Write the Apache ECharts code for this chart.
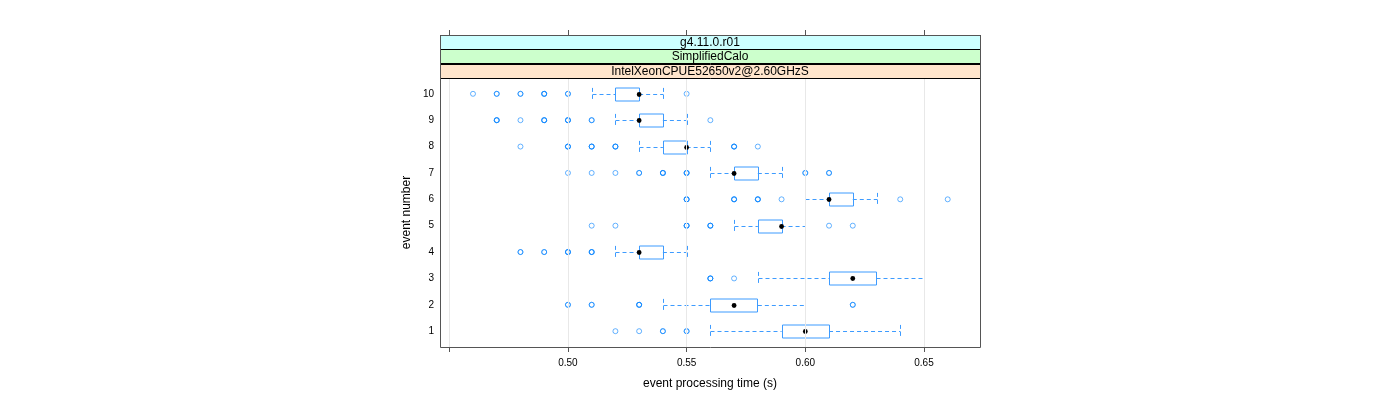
<!DOCTYPE html>
<html>
<head>
<meta charset="utf-8">
<script src="https://cdn.jsdelivr.net/npm/echarts@6/dist/echarts.min.js"></script>
<style>html,body{margin:0;padding:0;background:#fff}#c{width:1400px;height:400px}</style>
</head>
<body>
<div id="c"></div>
<script>
// ---- data (index 0 = event 1) ----
const events = [1, 2, 3, 4, 5, 6, 7, 8, 9, 10];
const lowerWhisker = [0.56, 0.54, 0.58, 0.52, 0.57, 0.60, 0.56, 0.53, 0.52, 0.51];
const q1Values     = [0.59, 0.56, 0.61, 0.53, 0.58, 0.61, 0.57, 0.54, 0.53, 0.52];
const medianValues = [0.60, 0.57, 0.62, 0.53, 0.59, 0.61, 0.57, 0.55, 0.53, 0.53];
const q3Values     = [0.61, 0.58, 0.63, 0.54, 0.59, 0.62, 0.58, 0.55, 0.54, 0.53];
const upperWhisker = [0.64, 0.60, 0.65, 0.55, 0.60, 0.63, 0.59, 0.56, 0.55, 0.54];
// outliers per event (repeated values = overlapping observations)
const outliers1  = [0.52, 0.53, 0.54, 0.54, 0.55, 0.55];
const outliers2  = [0.50, 0.50, 0.51, 0.51, 0.53, 0.53, 0.53, 0.62, 0.62];
const outliers3  = [0.56, 0.56, 0.56, 0.57];
const outliers4  = [0.48, 0.48, 0.49, 0.49, 0.50, 0.50, 0.50, 0.51, 0.51, 0.51];
const outliers5  = [0.51, 0.52, 0.55, 0.55, 0.55, 0.56, 0.56, 0.56, 0.61, 0.62];
const outliers6  = [0.55, 0.55, 0.55, 0.57, 0.57, 0.57, 0.58, 0.58, 0.58, 0.59, 0.64, 0.66];
const outliers7  = [0.50, 0.51, 0.52, 0.53, 0.53, 0.54, 0.54, 0.54, 0.55, 0.55, 0.55, 0.60, 0.60, 0.61, 0.61];
const outliers8  = [0.48, 0.50, 0.50, 0.50, 0.51, 0.51, 0.51, 0.52, 0.52, 0.52, 0.57, 0.57, 0.57, 0.58];
const outliers9  = [0.47, 0.47, 0.47, 0.48, 0.49, 0.49, 0.49, 0.50, 0.50, 0.50, 0.51, 0.51, 0.56];
const outliers10 = [0.46, 0.47, 0.47, 0.48, 0.48, 0.49, 0.49, 0.49, 0.50, 0.50, 0.55];
const outlierLists = [outliers1, outliers2, outliers3, outliers4, outliers5, outliers6, outliers7, outliers8, outliers9, outliers10];
const xTickValues = [0.45, 0.50, 0.55, 0.60, 0.65];
const xLabelValues = [0.50, 0.55, 0.60, 0.65];
const stripLabels = ['g4.11.0.r01', 'SimplifiedCalo', 'IntelXeonCPUE52650v2@2.60GHzS'];
const xTitle = 'event processing time (s)';
const yTitle = 'event number';

// ---- build ----
const FONT = '"Liberation Sans", Arial, Helvetica, sans-serif';
const BLUE = '#0080ff';
const WHISK = '#3d9bff';
const boxData = events.map((e, i) => [e, lowerWhisker[i], q1Values[i], medianValues[i], q3Values[i], upperWhisker[i]]);
const outlierData = [];
outlierLists.forEach((lst, i) => lst.forEach(v => outlierData.push([v, events[i]])));

const chart = echarts.init(document.getElementById('c'), null, {renderer: 'canvas'});
const G = {left: 440, right: 980, top: 78, bottom: 347};
const stripTop = 35, stripH = (G.top - stripTop) / 3;
const stripFills = ['#ccffff', '#ccffcc', '#ffe5cc'];
const graphics = [];
stripLabels.forEach((t, i) => {
  const y = stripTop + i * stripH;
  graphics.push({type: 'rect', shape: {x: G.left + 0.5, y: Math.round(y) + 0.5, width: G.right - G.left, height: Math.round(stripH)},
    style: {fill: stripFills[i], stroke: '#000', lineWidth: 1}, z: 10});
  graphics.push({type: 'text', x: (G.left + G.right) / 2, y: y + stripH / 2 + 0.5,
    style: {text: t, font: '12px ' + FONT, fill: '#000', align: 'center', verticalAlign: 'middle'}, z: 11});
});
graphics.push({type: 'rect', shape: {x: G.left + 0.5, y: stripTop + 0.5, width: G.right - G.left, height: G.bottom - stripTop},
  style: {fill: null, stroke: '#555', lineWidth: 1}, z: 12});

const option = {
  animation: false,
  backgroundColor: '#fff',
  textStyle: {fontFamily: FONT},
  grid: {left: G.left, right: 1400 - G.right, top: G.top, bottom: 400 - G.bottom, show: false},
  xAxis: [{
    type: 'value', min: 0.4461, max: 0.6736, position: 'bottom',
    axisLine: {show: false}, splitLine: {show: false},
    axisTick: {show: true, customValues: xTickValues, length: 5, lineStyle: {color: '#555'}},
    axisLabel: {customValues: xLabelValues, formatter: v => v.toFixed(2), fontSize: 10, color: '#000', margin: 11, fontFamily: FONT},
    name: xTitle, nameLocation: 'middle', nameGap: 31, nameTextStyle: {fontSize: 12, color: '#000', fontFamily: FONT}
  }, {
    type: 'value', min: 0.4461, max: 0.6736, position: 'top', offset: G.top - stripTop,
    axisLine: {show: false}, splitLine: {show: false},
    axisTick: {show: true, customValues: xTickValues, length: 5, lineStyle: {color: '#555'}},
    axisLabel: {show: false}
  }],
  yAxis: {
    type: 'value', min: 0.4, max: 10.6,
    axisLine: {show: false}, axisTick: {show: false}, splitLine: {show: false},
    axisLabel: {customValues: events, fontSize: 10, color: '#000', margin: 6, fontFamily: FONT},
    name: yTitle, nameLocation: 'middle', nameGap: 27, nameRotate: 90,
    nameTextStyle: {fontSize: 12, color: '#000', fontFamily: FONT}
  },
  graphic: graphics,
  series: [{
    type: 'scatter', data: [], silent: true,
    markLine: {silent: true, symbol: 'none', label: {show: false},
      lineStyle: {color: '#e8e8e8', type: 'solid', width: 1},
      data: xTickValues.map(v => ({xAxis: v}))}
  }, {
    type: 'scatter', data: outlierData, symbol: 'circle', symbolSize: 5,
    itemStyle: {color: 'rgba(0,0,0,0)', borderColor: BLUE, borderWidth: 1, opacity: 0.6}, z: 3
  }, {
    type: 'custom', data: boxData, encode: {x: [1, 2, 3, 4, 5], y: 0}, z: 4,
    renderItem: function (params, api) {
      const y = api.value(0);
      const lw = api.coord([api.value(1), y]), q1 = api.coord([api.value(2), y]), md = api.coord([api.value(3), y]),
            q3 = api.coord([api.value(4), y]), uw = api.coord([api.value(5), y]);
      const h = api.size([0, 0.5])[1];
      const cy = Math.round(q1[1]) + 0.5;
      const dash = () => ({stroke: WHISK, fill: null, lineWidth: 1, lineDash: [4, 3]});
      const xl = Math.round(lw[0]) + 0.5, xu = Math.round(uw[0]) + 0.5;
      return {type: 'group', children: [
        {type: 'line', shape: {x1: xl, y1: cy, x2: q1[0], y2: cy}, style: dash()},
        {type: 'line', shape: {x1: q3[0], y1: cy, x2: xu, y2: cy}, style: dash()},
        {type: 'line', shape: {x1: xl, y1: cy - h / 2, x2: xl, y2: cy + h / 2}, style: dash()},
        {type: 'line', shape: {x1: xu, y1: cy - h / 2, x2: xu, y2: cy + h / 2}, style: dash()},
        {type: 'rect', shape: {x: Math.round(q1[0]) + 0.5, y: Math.round(cy - h / 2), width: Math.round(q3[0] - q1[0]), height: Math.round(h)},
          style: {fill: null, stroke: '#3d9bff', lineWidth: 1}},
        {type: 'circle', shape: {cx: md[0], cy: cy, r: 2.4}, style: {fill: '#000', stroke: null}}
      ]};
    }
  }]
};
chart.setOption(option);
</script>
</body>
</html>
